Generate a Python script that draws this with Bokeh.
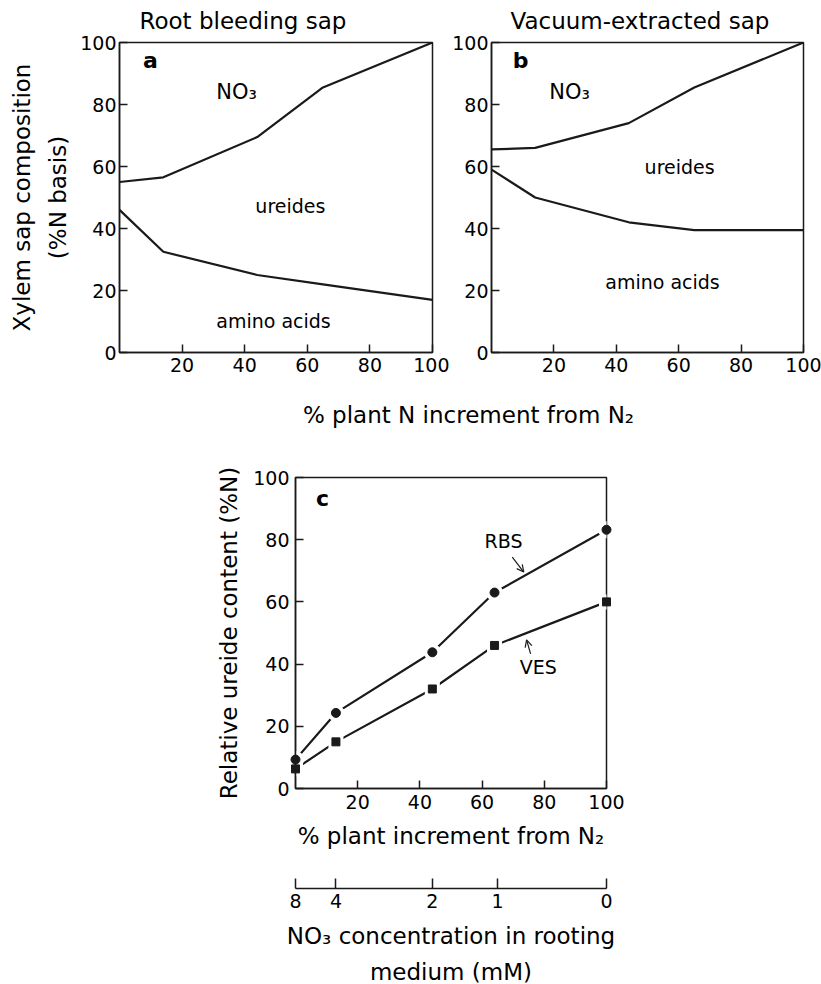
from bokeh.plotting import figure
from bokeh.models import Range1d, FixedTicker, Label, Arrow, OpenHead, Title
from bokeh.layouts import column, row
from bokeh.embed import file_html
from bokeh.resources import INLINE

FONT = "DejaVu Sans"
INK = "#1a1a1a"

# ---- data ----
pct_n2 = [0, 14, 44, 65, 100]
a_no3_boundary = [55, 56.5, 69.5, 85.5, 100]     # root bleeding sap: top of ureides
a_amino_boundary = [46, 32.5, 25, 22, 17]        # root bleeding sap: top of amino acids
b_no3_boundary = [65.5, 66, 74, 85.5, 100]       # vacuum-extracted sap
b_amino_boundary = [59, 50, 42, 39.5, 39.5]

c_x = [0, 13, 44, 64, 100]
rbs = [9.3, 24.3, 43.8, 63, 83.2]
ves = [6.3, 15, 32, 46, 60]

xticks = [20, 40, 60, 80, 100]
yticks = [0, 20, 40, 60, 80, 100]
no3_tick_pos = [0, 13, 44, 65, 100]
no3_tick_labels = ["8", "4", "2", "1", "0"]


def make_fig(fw, fh, left, right, top, bottom, yr=(0, 100)):
    p = figure(frame_width=fw, frame_height=fh,
               min_border_left=left, min_border_right=right,
               min_border_top=top, min_border_bottom=bottom,
               x_range=Range1d(0, 100), y_range=Range1d(*yr),
               output_backend="svg", toolbar_location=None)
    p.grid.visible = False
    p.outline_line_color = INK
    p.outline_line_width = 1.5
    p.outline_line_alpha = 1
    p.background_fill_color = "white"
    p.border_fill_color = "white"
    for ax in p.axis:
        ax.axis_line_color = INK
        ax.axis_line_width = 1.5
        ax.major_tick_line_color = INK
        ax.major_tick_line_width = 1.5
        ax.major_tick_in = 8
        ax.major_tick_out = 0
        ax.minor_tick_in = 0
        ax.minor_tick_out = 0
        ax.major_label_text_font = FONT
        ax.major_label_text_font_size = "19px"
        ax.major_label_text_color = "black"
        ax.axis_label_text_font = FONT
        ax.axis_label_text_font_style = "normal"
        ax.axis_label_text_font_size = "23px"
        ax.axis_label_text_color = "black"
        ax.axis_label_text_line_height = 1.4
    return p


def lab(p, x, y, text, size, bold=False):
    p.add_layout(Label(x=x, y=y, text=text, text_font=FONT,
                       text_font_size=f"{size}px",
                       text_font_style="bold" if bold else "normal",
                       text_align="center", text_baseline="middle",
                       text_color="black"))


def add_title(p, text, align, offset, standoff, valign):
    p.add_layout(Title(text=text, align=align, offset=offset, standoff=standoff,
                       vertical_align=valign,
                       text_font=FONT, text_font_size="23px",
                       text_font_style="normal", text_color="black"), "above")


def stacked_panel(p, upper, lower):
    p.xaxis.ticker = FixedTicker(ticks=xticks)
    p.yaxis.ticker = FixedTicker(ticks=yticks)
    p.xaxis.major_label_standoff = 5
    p.yaxis.major_label_standoff = 3
    p.line(pct_n2, upper, line_color=INK, line_width=2.2)
    p.line(pct_n2, lower, line_color=INK, line_width=2.2)


# ---- panel a ----
pa = make_fig(313, 310, 119, 17, 42, 30)
stacked_panel(pa, a_no3_boundary, a_amino_boundary)
add_title(pa, "Root bleeding sap", "left", 20, 14, "top")
pa.yaxis.axis_label = "Xylem sap composition\n(%N basis)"
pa.yaxis.axis_label_standoff = 6
lab(pa, 9.9, 94.2, "a", 22, bold=True)
lab(pa, 37.4, 83.9, "NO\u2083", 21)
lab(pa, 54.6, 47.4, "ureides", 19)
lab(pa, 49.2, 10.3, "amino acids", 19)

# ---- panel b ----
pb = make_fig(312, 310, 40, 20, 42, 30)
stacked_panel(pb, b_no3_boundary, b_amino_boundary)
add_title(pb, "Vacuum-extracted sap", "left", 19, 14, "top")
lab(pb, 9.3, 94.2, "b", 22, bold=True)
lab(pb, 25.0, 83.9, "NO\u2083", 21)
lab(pb, 60.3, 59.7, "ureides", 19)
lab(pb, 54.8, 22.6, "amino acids", 19)

# ---- shared x title of panels a and b ----
pt = figure(frame_width=346, frame_height=1, min_border_left=295, min_border_right=0,
            min_border_top=45, min_border_bottom=0,
            x_range=Range1d(0, 1), y_range=Range1d(0, 1),
            x_axis_location=None, y_axis_location=None,
            output_backend="svg", toolbar_location=None)
pt.grid.visible = False
pt.outline_line_color = None
pt.border_fill_color = "white"
add_title(pt, "% plant N increment from N\u2082", "center", 0, 0, "bottom")

# ---- panel c ----
pc = make_fig(311, 311, 295, 40, 49, 60)
pc.xaxis.ticker = FixedTicker(ticks=xticks)
pc.yaxis.ticker = FixedTicker(ticks=yticks)
pc.xaxis.major_label_standoff = 6
pc.yaxis.major_label_standoff = 6
pc.xaxis.axis_label = "% plant increment from N\u2082"
pc.yaxis.axis_label = "Relative ureide content (%N)"
pc.xaxis.axis_label_standoff = 11
pc.yaxis.axis_label_standoff = 8
pc.line(c_x, rbs, line_color=INK, line_width=2.2)
pc.line(c_x, ves, line_color=INK, line_width=2.2)
pc.scatter(c_x, rbs, marker="circle", size=17, fill_color="white", line_color=None)
pc.scatter(c_x, ves, marker="square", size=15, fill_color="white", line_color=None)
pc.scatter(c_x, rbs, marker="circle", size=9, fill_color=INK, line_color=INK, level="overlay")
pc.scatter(c_x, ves, marker="square", size=8, fill_color=INK, line_color=INK, level="overlay")
lab(pc, 8.7, 93.2, "c", 22, bold=True)
lab(pc, 66.9, 79.7, "RBS", 19)
lab(pc, 78.1, 39.2, "VES", 19)
pc.add_layout(Arrow(end=OpenHead(size=7, line_color=INK, line_width=1.2),
                    x_start=69.7, y_start=74.4, x_end=73.4, y_end=69.6,
                    line_color=INK, line_width=1.2))
pc.add_layout(Arrow(end=OpenHead(size=7, line_color=INK, line_width=1.2),
                    x_start=75.6, y_start=43.3, x_end=74.3, y_end=47.8,
                    line_color=INK, line_width=1.2))

# ---- NO3 concentration scale ----
pd_ = make_fig(311, 12, 295, 40, 25, 99, yr=(0, 12))
pd_.yaxis.visible = False
pd_.outline_line_color = None
pd_.xaxis.ticker = FixedTicker(ticks=no3_tick_pos)
pd_.xaxis.major_label_overrides = {pos: txt for pos, txt in zip(no3_tick_pos, no3_tick_labels)}
pd_.xaxis.major_tick_in = 10
pd_.xaxis.major_label_standoff = 5
pd_.xaxis.axis_label = "NO\u2083 concentration in rooting\nmedium (mM)"
pd_.xaxis.axis_label_standoff = 12

layout = column(row(pa, pb), pt, pc, pd_)
open("out.html", "w").write(file_html(layout, INLINE))
